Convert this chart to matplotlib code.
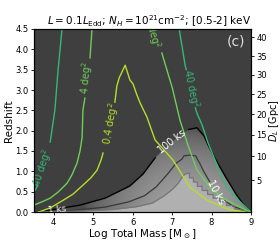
import matplotlib
matplotlib.use("Agg")
import matplotlib.pyplot as plt
from matplotlib.colors import LinearSegmentedColormap
from matplotlib.patches import Polygon
import numpy as np

# survey-area contours (log mass, redshift)
area40_left_m = [4.21, 4.11, 4.03, 3.91, 3.75, 3.60, 3.50]
area40_left_z = [4.50, 3.49, 2.51, 1.72, 1.08, 0.66, 0.49]
area40_right_m = [7.18, 7.33, 7.36, 7.48, 7.59, 7.63, 7.76, 7.91, 8.16, 8.39, 8.67, 9.00]
area40_right_z = [4.50, 3.61, 3.50, 3.00, 2.56, 2.43, 2.14, 1.70, 1.11, 0.61, 0.30, 0.00]
area4_left_m = [4.97, 4.92, 4.84, 4.79, 4.74, 4.72, 4.67, 4.59, 4.46, 4.34, 4.11,
                3.91, 3.70, 3.50]
area4_left_z = [4.50, 3.79, 3.29, 2.80, 2.51, 1.84, 1.52, 1.20, 0.91, 0.71, 0.49,
                0.34, 0.25, 0.17]
area4_right_m = [6.44, 6.74, 7.00, 7.20, 7.40, 7.63, 7.96, 8.29, 8.72, 8.98]
area4_right_z = [4.50, 3.91, 3.07, 2.26, 1.65, 1.03, 0.61, 0.34, 0.12, 0.00]
area04_m = [3.62, 3.91, 4.24, 4.49, 4.74, 4.94, 5.10, 5.20, 5.25, 5.35, 5.48, 5.55,
            5.60, 5.66, 5.81, 5.88, 5.93, 6.01, 6.10, 6.19, 6.36, 6.57, 7.02, 7.45,
            7.89, 8.47, 8.85]
area04_z = [0.00, 0.10, 0.29, 0.44, 0.66, 0.84, 1.03, 1.28, 1.45, 1.77, 2.26, 2.70,
            3.10, 3.30, 3.61, 3.40, 3.25, 3.15, 2.90, 2.68, 2.34, 1.77, 1.28, 0.61,
            0.29, 0.05, 0.00]

# exposure-time contours
t100_m = [3.55, 3.91, 4.67, 5.30, 5.68, 5.93, 6.26, 6.57, 6.82, 7.12, 7.42, 7.63,
          7.81, 7.91, 8.11, 8.37, 8.62, 8.82, 9.00]
t100_z = [0.00, 0.05, 0.17, 0.34, 0.52, 0.64, 0.93, 1.33, 1.57, 1.82, 2.03, 2.07,
          1.87, 1.65, 1.28, 0.84, 0.44, 0.17, 0.00]
t10_m = [3.60, 4.50, 5.30, 5.90, 6.30, 6.60, 6.90, 7.10, 7.25, 7.30, 7.45, 7.60,
         7.65, 7.70, 7.80, 7.95, 8.10, 8.30, 8.55, 8.80, 9.00]
t10_z = [0.00, 0.04, 0.12, 0.25, 0.40, 0.62, 0.95, 1.20, 1.30, 1.38, 1.40, 1.38,
         1.28, 1.20, 1.00, 0.75, 0.52, 0.30, 0.14, 0.05, 0.00]
t1_m = [3.55, 4.60, 5.50, 6.10, 6.50, 6.80, 7.00, 7.15, 7.25, 7.32, 7.40, 7.44,
        7.44, 7.54, 7.54, 7.64, 7.64, 7.76, 7.76, 7.90, 7.90, 8.04, 8.04, 8.20,
        8.20, 8.38, 8.38, 8.58, 8.58, 8.80, 9.00]
t1_z = [0.00, 0.02, 0.06, 0.13, 0.22, 0.40, 0.55, 0.70, 0.85, 0.93, 0.95, 0.95,
        0.84, 0.84, 0.74, 0.74, 0.63, 0.63, 0.53, 0.53, 0.43, 0.43, 0.34, 0.34,
        0.25, 0.25, 0.16, 0.16, 0.08, 0.04, 0.00]

dl_ticks = [5, 10, 15, 20, 25, 30, 35, 40]

c_40 = '#35b779'
c_4 = '#6ece58'
c_04 = '#b5de2b'


def gapped(ax, x, y, lo, hi, use_y, **kw):
    x = np.asarray(x, float)
    y = np.asarray(y, float)
    t = y if use_y else x
    keep = (t < lo) | (t > hi)
    ax.plot(np.where(keep, x, np.nan), np.where(keep, y, np.nan), **kw)


fig = plt.figure(figsize=(2.8, 2.4), dpi=100)
ax = fig.add_axes([34 / 280, 28 / 240, 217 / 280, 183 / 240])
ax.set_facecolor('#3f3f3f')

# grey exposure map: soft shading inside the 100 ks contour
grey = LinearSegmentedColormap.from_list('g', ['#4a4a4a', '#adadad'])
gm, gz = np.meshgrid(np.linspace(3.5, 9, 300), np.linspace(0, 4.5, 300))
shade = np.clip(1 - np.hypot((gm - 7.45) / 2.7, gz / 2.1), 0, 1) ** 0.6
im = ax.imshow(shade, extent=(3.5, 9, 0, 4.5), origin='lower', aspect='auto',
               cmap=grey, vmin=0, vmax=1, interpolation='bilinear')
clip = Polygon(np.column_stack([t100_m + [9.0, 3.5], t100_z + [0, 0]]),
               closed=True, transform=ax.transData, facecolor='none', edgecolor='none')
ax.add_patch(clip)
im.set_clip_path(clip)
ax.fill_between(t1_m, t1_z, 0, color='#b0b0b0', lw=0)

gapped(ax, t100_m, t100_z, 6.6, 7.4, False, color='k', lw=1)
gapped(ax, t10_m, t10_z, 7.97, 8.27, False, color='#383838', lw=0.9)
gapped(ax, t1_m, t1_z, 3.9, 4.3, False, color='#767676', lw=0.9)

ax.text(7.0, 1.72, '100 ks', color='white', fontsize=7, rotation=38,
        ha='center', va='center')
ax.text(8.11, 0.49, '10 ks', color='white', fontsize=7, rotation=-62,
        ha='center', va='center')
ax.text(4.08, 0.05, '1 ks', color='white', fontsize=6.5, rotation=5,
        ha='center', va='center')

# area contours
gapped(ax, area40_left_m, area40_left_z, 0.7, 1.7, True, color=c_40, lw=1)
gapped(ax, area40_right_m, area40_right_z, 2.6, 3.45, True, color=c_40, lw=1)
gapped(ax, area4_left_m, area4_left_z, 2.85, 3.75, True, color=c_4, lw=1)
gapped(ax, area4_right_m, area4_right_z, 3.95, 4.6, True, color=c_4, lw=1)
gapped(ax, area04_m, area04_z, 5.28, 5.52, False, color=c_04, lw=1)

ax.text(3.73, 1.08, '40 deg$^2$', color=c_40, fontsize=7, rotation=72,
        ha='center', va='center')
ax.text(7.47, 3.03, '40 deg$^2$', color=c_40, fontsize=7, rotation=-78,
        ha='center', va='center')
ax.text(4.84, 3.29, '4 deg$^2$', color=c_4, fontsize=7, rotation=85,
        ha='center', va='center')
ax.text(6.49, 4.43, '4 deg$^2$', color=c_4, fontsize=7, rotation=-75,
        ha='center', va='center', clip_on=True)
ax.text(5.45, 2.17, '0.4 deg$^2$', color=c_04, fontsize=7, rotation=80,
        ha='center', va='center')

ax.text(0.93, 0.93, '(c)', color='#dddddd', fontsize=10, transform=ax.transAxes,
        ha='center', va='center')

ax.set_xlim(3.5, 9)
ax.set_ylim(0, 4.5)
ax.set_xticks([4, 5, 6, 7, 8, 9])
ax.set_yticks(np.arange(0, 4.51, 0.5))
ax.set_yticklabels(['%.1f' % v for v in np.arange(0, 4.51, 0.5)])
ax.tick_params(labelsize=6, length=2.5, width=0.6, pad=1.5)
ax.set_xlabel('Log Total Mass [M$_\\odot$]', fontsize=7.5, labelpad=0)
ax.set_ylabel('Redshift', fontsize=7.5, labelpad=1)
ax.set_title('$L = 0.1L_{\\rm Edd}$; $N_H = 10^{21}$cm$^{-2}$; [0.5-2] keV',
             fontsize=7.5, pad=3, x=0.53)

# luminosity distance axis (flat LCDM)
zz = np.linspace(0, 5, 2001)
ez = np.sqrt(0.307 * (1 + zz) ** 3 + 0.693)
dc = 299792.458 / 67.7 * np.concatenate([[0], np.cumsum(0.5 * (1 / ez[1:] + 1 / ez[:-1]) * np.diff(zz))])
dl = (1 + zz) * dc / 1000.0

ax2 = ax.twinx()
ax2.set_ylim(0, 4.5)
ax2.set_yticks(np.interp(dl_ticks, dl, zz))
ax2.set_yticklabels([str(v) for v in dl_ticks])
ax2.tick_params(labelsize=6, length=2.5, width=0.6, pad=1.5)
ax2.set_ylabel('$D_L$ [Gpc]', fontsize=7, labelpad=0)

fig.savefig('out.png', dpi=100)
